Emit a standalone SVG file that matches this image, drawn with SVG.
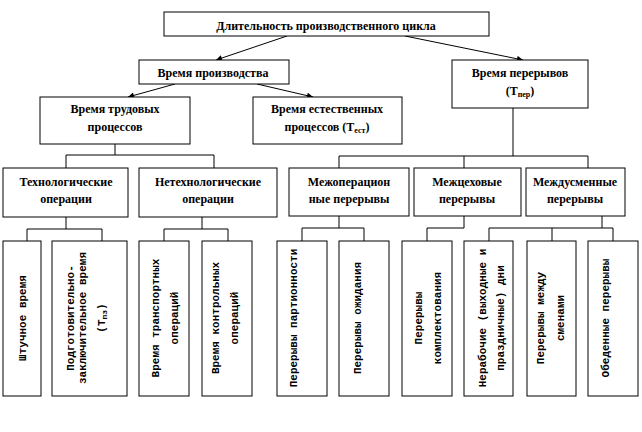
<svg xmlns="http://www.w3.org/2000/svg" width="642" height="432" viewBox="0 0 642 432">
<style>
.b{fill:#fff;stroke:#000;stroke-width:1}
.t{font-weight:bold;font-size:12px;text-anchor:middle;fill:#000}
.v{font-weight:bold;font-size:11px;text-anchor:middle;fill:#000}
.c{fill:none;stroke:#000;stroke-width:1}
</style>
<defs>
<marker id="ar" viewBox="0 0 10 10" refX="10" refY="5" markerWidth="8" markerHeight="6" orient="auto" markerUnits="userSpaceOnUse">
<path d="M0,0L10,5L0,10z" fill="#000"/>
</marker>
</defs>
<rect width="642" height="432" fill="#fff"/>
<g id="connectors">
<line class="c" x1="287" y1="36" x2="216" y2="60" marker-end="url(#ar)"/>
<line class="c" x1="405" y1="36" x2="523" y2="60" marker-end="url(#ar)"/>
<line class="c" x1="175" y1="84" x2="128" y2="97" marker-end="url(#ar)"/>
<line class="c" x1="257" y1="84" x2="313" y2="97" marker-end="url(#ar)"/>
<path class="c" d="M115,144V155M66,168V155H214V168"/>
<path class="c" d="M513,108V156M339,168V156H588V168M464,156V168"/>
<path class="c" d="M66,217V229M27,241V229H102V241"/>
<path class="c" d="M202,217V229M164,241V229H228V241"/>
<path class="c" d="M339,216V228M302,241V228H364V241"/>
<path class="c" d="M464,216V228H427V241"/>
<path class="c" d="M602,216V228M489,241V228H613V241M552,228V241"/>
</g>
<g font-family="Liberation Serif, serif">
<g id="n-cycle"><rect class="b" x="164" y="12" width="325" height="24"/><text class="t" x="326" y="30">Длительность производственного цикла</text></g>
<g id="n-prod"><rect class="b" x="139" y="60" width="150" height="24"/><text class="t" x="213" y="77">Время производства</text></g>
<g id="n-breaks"><rect class="b" x="452" y="60" width="136" height="48"/><text class="t" x="520" y="77">Время перерывов</text><text class="t" x="520" y="95">(Т<tspan font-size="8" dy="2">пер</tspan><tspan dy="-2">)</tspan></text></g>
<g id="n-labor"><rect class="b" x="40" y="97" width="150" height="47"/><text class="t" x="115" y="113">Время трудовых</text><text class="t" x="115" y="131">процессов</text></g>
<g id="n-natural"><rect class="b" x="253" y="97" width="149" height="47"/><text class="t" x="327" y="113">Время естественных</text><text class="t" x="327" y="131">процессов (Т<tspan font-size="8" dy="2">ест</tspan><tspan dy="-2">)</tspan></text></g>
<g id="n-tech"><rect class="b" x="3" y="168" width="125" height="49"/><text class="t" x="66" y="186">Технологические</text><text class="t" x="66" y="203">операции</text></g>
<g id="n-nontech"><rect class="b" x="139" y="168" width="138" height="49"/><text class="t" x="208" y="186">Нетехнологические</text><text class="t" x="208" y="203">операции</text></g>
<g id="n-interop"><rect class="b" x="289" y="168" width="120" height="48"/><text class="t" x="349" y="186">Межоперацион</text><text class="t" x="349" y="203">ные перерывы</text></g>
<g id="n-intershop"><rect class="b" x="414" y="168" width="107" height="48"/><text class="t" x="467" y="186">Межцеховые</text><text class="t" x="467" y="203">перерывы</text></g>
<g id="n-intershift"><rect class="b" x="526" y="168" width="99" height="48"/><text class="t" x="575" y="186">Междусменные</text><text class="t" x="575" y="203">перерывы</text></g>
</g>
<g font-family="Liberation Mono, monospace">
<g id="n-piece"><rect class="b" x="3" y="241" width="38" height="155"/><text class="v" transform="translate(26,318) rotate(-90)">Штучное время</text></g>
<g id="n-prep"><rect class="b" x="52" y="241" width="75" height="155"/><text class="v" transform="translate(74,318) rotate(-90)">Подготовительно-</text><text class="v" transform="translate(86,318) rotate(-90)">заключительное время</text><text class="v" transform="translate(105,318) rotate(-90)">(Т<tspan font-size="8" dy="2">пз</tspan><tspan dy="-2">)</tspan></text></g>
<g id="n-transport"><rect class="b" x="139" y="241" width="50" height="155"/><text class="v" transform="translate(159,318) rotate(-90)">Время транспортных</text><text class="v" transform="translate(178,318) rotate(-90)">операций</text></g>
<g id="n-control"><rect class="b" x="202" y="241" width="50" height="155"/><text class="v" transform="translate(219,318) rotate(-90)">Время контрольных</text><text class="v" transform="translate(238,318) rotate(-90)">операций</text></g>
<g id="n-batch"><rect class="b" x="277" y="241" width="50" height="155"/><text class="v" transform="translate(297,318) rotate(-90)">Перерывы партионности</text></g>
<g id="n-wait"><rect class="b" x="339" y="241" width="50" height="155"/><text class="v" transform="translate(361,318) rotate(-90)">Перерывы ожидания</text></g>
<g id="n-assembly"><rect class="b" x="402" y="241" width="50" height="155"/><text class="v" transform="translate(422,318) rotate(-90)">Перерывы</text><text class="v" transform="translate(441,318) rotate(-90)">комплектования</text></g>
<g id="n-holidays"><rect class="b" x="464" y="241" width="49" height="155"/><text class="v" transform="translate(486,318) rotate(-90)">Нерабочие (выходные и</text><text class="v" transform="translate(504,318) rotate(-90)">праздничные) дни</text></g>
<g id="n-between"><rect class="b" x="527" y="241" width="49" height="155"/><text class="v" transform="translate(544,318) rotate(-90)">Перерывы между</text><text class="v" transform="translate(564,318) rotate(-90)">сменами</text></g>
<g id="n-lunch"><rect class="b" x="588" y="241" width="50" height="155"/><text class="v" transform="translate(609,318) rotate(-90)">Обеденные перерывы</text></g>
</g>
</svg>
